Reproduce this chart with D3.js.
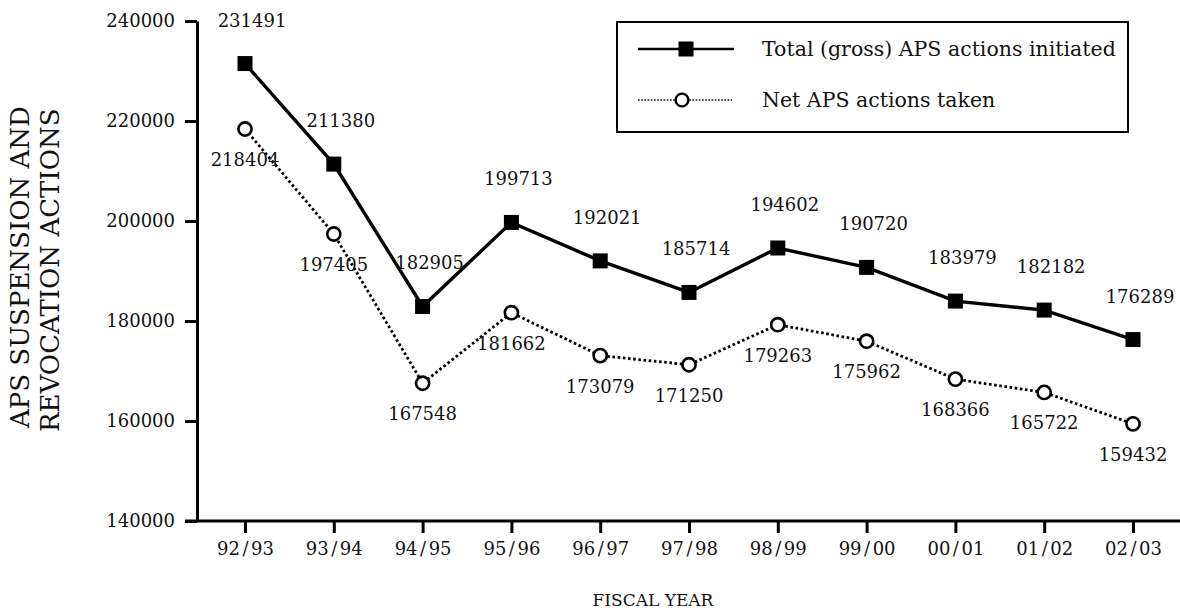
<!DOCTYPE html>
<html>
<head>
<meta charset="utf-8">
<script src="https://cdn.jsdelivr.net/npm/d3@7/dist/d3.min.js"></script>
<style>
  html, body { margin: 0; padding: 0; background: #fff; }
  svg { display: block; }
  text { font-family: "DejaVu Serif", "Liberation Serif", serif; fill: #111; }
</style>
</head>
<body>
<svg id="chart" width="1180" height="613"></svg>
<script>
// ---- data ----
const categories = ["92/93","93/94","94/95","95/96","96/97","97/98","98/99","99/00","00/01","01/02","02/03"];
const totalActions = [231491, 211380, 182905, 199713, 192021, 185714, 194602, 190720, 183979, 182182, 176289];
const netActions   = [218404, 197405, 167548, 181662, 173079, 171250, 179263, 175962, 168366, 165722, 159432];
const yTicks = [140000, 160000, 180000, 200000, 220000, 240000];
const seriesNames = ["Total (gross) APS actions initiated", "Net APS actions taken"];
const yTitleLines = ["APS SUSPENSION AND", "REVOCATION ACTIONS"];
const xTitle = "FISCAL YEAR";

// ---- layout ----
const W = 1180, H = 613;
const plot = { left: 197, top: 21, bottom: 521, firstX: 245, lastX: 1133 };
const svg = d3.select("#chart");

const x = d3.scalePoint().domain(categories).range([plot.firstX, plot.lastX]);
const y = d3.scaleLinear().domain([140000, 240000]).range([plot.bottom, plot.top]);

// Y axis
const yAxis = d3.axisLeft(y).tickValues(yTicks).tickSize(12).tickSizeOuter(0).tickPadding(10)
  .tickFormat(d3.format("d"));
const gy = svg.append("g").attr("transform", `translate(${plot.left},0)`).call(yAxis);
gy.select(".domain").attr("stroke", "#000").attr("stroke-width", 3);
gy.selectAll(".tick line").attr("stroke", "#000").attr("stroke-width", 3);
gy.selectAll(".tick text").attr("font-size", 18).attr("font-family", "DejaVu Serif").attr("fill", "#111");

// X axis
const xAxis = d3.axisBottom(x).tickSize(12).tickSizeOuter(0).tickPadding(8);
const gx = svg.append("g").attr("transform", `translate(0,${plot.bottom})`).call(xAxis);
gx.select(".domain").remove();
gx.selectAll(".tick line").attr("stroke", "#000").attr("stroke-width", 3);
gx.selectAll(".tick text").each(function(d) {
  const t = d3.select(this);
  const parts = d.split("/");
  t.text(null).attr("font-size", 18).attr("font-family", "DejaVu Serif").attr("fill", "#111")
    .attr("dy", "0.78em");
  t.append("tspan").text(parts[0]);
  t.append("tspan").attr("dx", 2.5).text("/");
  t.append("tspan").attr("dx", 2.5).text(parts[1]);
});
svg.append("line")
  .attr("x1", plot.left - 12).attr("x2", W)
  .attr("y1", plot.bottom).attr("y2", plot.bottom)
  .attr("stroke", "#000").attr("stroke-width", 3);

// lines
const line = d3.line().x((d, i) => x(categories[i])).y(d => y(d));
svg.append("path").datum(netActions).attr("d", line)
  .attr("fill", "none").attr("stroke", "#000").attr("stroke-width", 2.8)
  .attr("stroke-dasharray", "2.6 2.6");
svg.append("path").datum(totalActions).attr("d", line)
  .attr("fill", "none").attr("stroke", "#000").attr("stroke-width", 3.4);

// markers
const sq = 15;
svg.append("g").selectAll("rect").data(totalActions).join("rect")
  .attr("x", (d, i) => x(categories[i]) - sq / 2)
  .attr("y", d => y(d) - sq / 2)
  .attr("width", sq).attr("height", sq).attr("fill", "#000");
svg.append("g").selectAll("circle").data(netActions).join("circle")
  .attr("cx", (d, i) => x(categories[i]))
  .attr("cy", d => y(d))
  .attr("r", 6.6).attr("fill", "#fff").attr("stroke", "#000").attr("stroke-width", 2.6);

// value labels
svg.append("g").selectAll("text").data(totalActions).join("text")
  .attr("x", (d, i) => x(categories[i]) + 7)
  .attr("y", d => y(d) - 37)
  .attr("text-anchor", "middle").attr("font-size", 18).text(d => d);
svg.append("g").selectAll("text").data(netActions).join("text")
  .attr("x", (d, i) => x(categories[i]))
  .attr("y", d => y(d) + 37)
  .attr("text-anchor", "middle").attr("font-size", 18).text(d => d);

// axis titles
const yt = svg.append("g");
yTitleLines.forEach((s, i) => {
  yt.append("text")
    .attr("transform", `translate(${29 + i * 30},${428 + i * 4}) rotate(-90)`)
    .attr("text-anchor", "start").attr("font-size", 26).text(s);
});
svg.append("text").attr("x", 653).attr("y", 606).attr("text-anchor", "middle")
  .attr("font-size", 17).text(xTitle);

// legend
const lg = svg.append("g");
lg.append("rect").attr("x", 617).attr("y", 22).attr("width", 511).attr("height", 110)
  .attr("fill", "none").attr("stroke", "#000").attr("stroke-width", 2);
const rows = [49, 100];
lg.append("line").attr("x1", 638).attr("x2", 734).attr("y1", rows[0]).attr("y2", rows[0])
  .attr("stroke", "#000").attr("stroke-width", 2.5);
lg.append("rect").attr("x", 686 - sq / 2).attr("y", rows[0] - sq / 2).attr("width", sq).attr("height", sq).attr("fill", "#000");
lg.append("line").attr("x1", 638).attr("x2", 732).attr("y1", rows[1]).attr("y2", rows[1])
  .attr("stroke", "#000").attr("stroke-width", 1.6).attr("stroke-dasharray", "1.6 1.6");
lg.append("circle").attr("cx", 682).attr("cy", rows[1]).attr("r", 6.4)
  .attr("fill", "#fff").attr("stroke", "#000").attr("stroke-width", 2.4);
seriesNames.forEach((s, i) => {
  lg.append("text").attr("x", 762).attr("y", rows[i] + 7).attr("font-size", 20.5).text(s);
});
</script>
</body>
</html>
